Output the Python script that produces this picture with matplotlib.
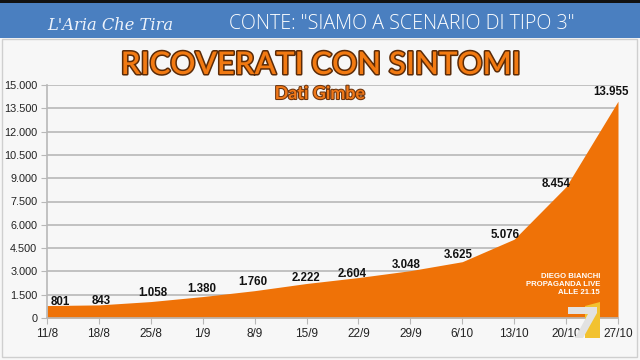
import matplotlib
matplotlib.use('Agg')
import matplotlib.pyplot as plt
from matplotlib.patches import Rectangle, Polygon
import matplotlib.patheffects as pe
from matplotlib.ticker import FuncFormatter

# ---- data ----
dates = ['11/8', '18/8', '25/8', '1/9', '8/9', '15/9', '22/9', '29/9',
         '6/10', '13/10', '20/10', '27/10']
values = [801, 843, 1058, 1380, 1760, 2222, 2604, 3048, 3625, 5076, 8454, 13955]
yticks = list(range(0, 15001, 1500))

title = 'RICOVERATI CON SINTOMI'
subtitle = 'Dati Gimbe'
header = 'CONTE: "SIAMO A SCENARIO DI TIPO 3"'
logo = "L'Aria Che Tira"
watermark = ['DIEGO BIANCHI', 'PROPAGANDA LIVE', 'ALLE 21.15']

# label offsets in pixels (dx, dy up) relative to each point
label_offsets = [(13, 4), (2, 4), (2, 9), (-1, 8), (-2, 9), (-1, 5.5),
                 (-6, 3.5), (-4, 6), (-4, 7), (-9, 4), (-10, 3), (-7, 9)]

W, H = 640, 360
ORANGE = '#ef7207'
GRID = '#b8b8b8'

def fy(py):
    return 1 - py / H

def fmt(v, pos=None):
    return f"{int(v):,}".replace(',', '.')

fig = plt.figure(figsize=(6.4, 3.6), dpi=100, facecolor='#f7f7f7')

# header band
fig.add_artist(Rectangle((0, fy(38)), 1, 35 / H, transform=fig.transFigure,
                         color='#4a7fc0', lw=0, zorder=0))
fig.add_artist(Rectangle((0, fy(3)), 1, 3 / H, transform=fig.transFigure,
                         color='#111111', lw=0, zorder=0))
fig.add_artist(Rectangle((2 / W, fy(357)), 635 / W, (357 - 39) / H,
                         transform=fig.transFigure, fill=False,
                         ec='#cfcfcf', lw=1, zorder=0))

ax = fig.add_axes([47 / W, 1 - 318 / H, 571 / W, 233 / H])
ax.set_facecolor('none')
x = list(range(len(values)))
ax.fill_between(x, values, 0, color=ORANGE, lw=0, zorder=2)
ax.set_xlim(0, len(values) - 1)
ax.set_ylim(0, 15000)
ax.set_yticks(yticks)
ax.yaxis.set_major_formatter(FuncFormatter(fmt))
ax.set_xticks(x)
ax.set_xticklabels(dates)
ax.yaxis.grid(True, color=GRID, lw=1.2, zorder=1)
ax.set_axisbelow(True)
for s in ['top', 'right']:
    ax.spines[s].set_visible(False)
for s in ['left', 'bottom']:
    ax.spines[s].set_color(GRID)
    ax.spines[s].set_linewidth(1.2)
ax.tick_params(axis='y', length=4, color=GRID, labelsize=7.8,
               labelcolor='#222222', pad=3)
ax.tick_params(axis='x', length=4, color=GRID, labelsize=8.5,
               labelcolor='#222222', pad=3)
for lab in ax.get_xticklabels() + ax.get_yticklabels():
    lab.set_family(['Liberation Sans', 'DejaVu Sans'])

for i, v in enumerate(values):
    dx, dy = label_offsets[i]
    ax.annotate(fmt(v), (i, v), xytext=(dx * 0.72, dy * 0.72),
                textcoords='offset points', ha='center', va='center',
                fontsize=8.3, fontweight='bold', color='#111111',
                family=['Liberation Sans', 'DejaVu Sans'], zorder=5,
                annotation_clip=False)

# texts
t_title = fig.text(0.5, fy(74), title, ha='center', va='baseline',
                   fontsize=24, fontweight='semibold', color='#f27a12',
                   family=['Lato', 'DejaVu Sans'],
                   path_effects=[pe.withStroke(linewidth=2.2, foreground='#5b2b08')])
t_sub = fig.text(0.5, fy(99), subtitle, ha='center', va='baseline',
                 fontsize=11, fontweight='bold', color='#f07818',
                 family=['Lato', 'DejaVu Sans'],
                 path_effects=[pe.withStroke(linewidth=1.5, foreground='#6b3510')])
t_head = fig.text(402 / W, fy(29), header, ha='center', va='baseline',
                  fontsize=13, color='white', fontweight='light',
                  family=['Open Sans', 'DejaVu Sans'])
t_logo = fig.text(110 / W, fy(30), logo, ha='center', va='baseline',
                  fontsize=12, color='#eef3fb', style='italic',
                  family=['DejaVu Serif'])

for i, line in enumerate(watermark):
    fig.text(600 / W, fy(277 + 7.5 * i), line, ha='right', va='center',
             fontsize=5.6, fontweight='bold', color='white',
             family=['Liberation Sans', 'DejaVu Sans'], zorder=6)

# La7 logo (decoration, drawn as shapes)
def figpoly(pts, **kw):
    fig.add_artist(Polygon([(px / W, fy(py)) for px, py in pts], closed=True,
                           transform=fig.transFigure, **kw))

figpoly([(585, 306), (600, 302), (600, 338), (585, 338)], color='#f2c230', lw=0, zorder=6)
figpoly([(568, 307), (597, 307), (597, 313), (583, 338), (575, 338),
         (588, 314), (568, 314)], color='#e2e2e2', lw=0, zorder=7)

def fit(t, target_w):
    fig.canvas.draw()
    r = fig.canvas.get_renderer()
    w = t.get_window_extent(r).width
    t.set_fontsize(t.get_fontsize() * target_w / w)

fit(t_title, 400)
fit(t_sub, 90)
fit(t_head, 345)
fit(t_logo, 126)

fig.savefig('out.png', dpi=100, facecolor=fig.get_facecolor())
